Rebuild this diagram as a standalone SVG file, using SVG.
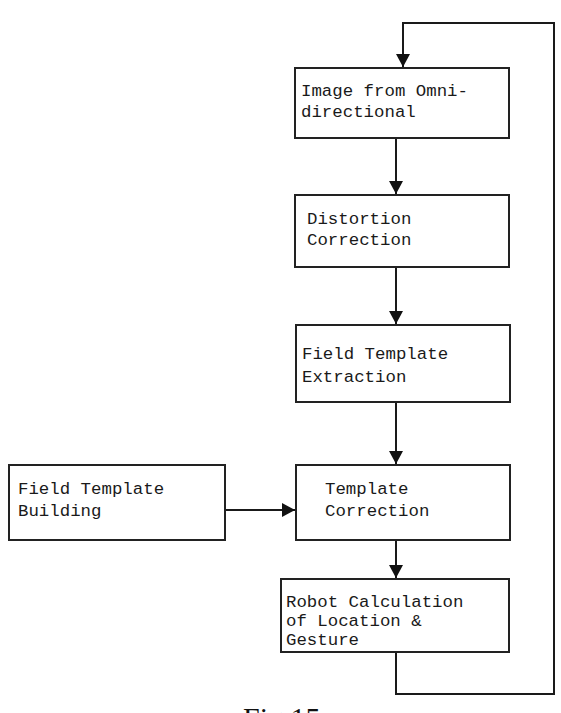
<svg xmlns="http://www.w3.org/2000/svg" width="561" height="713" viewBox="0 0 561 713">
<style>
.box{fill:#fff;stroke:#222;stroke-width:2}
.t{font-family:"Liberation Mono","DejaVu Sans Mono",monospace;font-size:17.4px;fill:#1a1a1a}
.c{fill:none;stroke:#1a1a1a;stroke-width:2}
.cap{font-family:"Liberation Serif","Times New Roman",serif;font-size:30px;fill:#111}
</style>
<defs>
<marker id="ah" markerWidth="13" markerHeight="15" refX="13" refY="7" orient="auto" markerUnits="userSpaceOnUse" viewBox="0 0 13 14">
<path d="M0,0 L13,7 L0,14 Z" fill="#111"/>
</marker>
</defs>
<rect width="561" height="713" fill="#fff"/>
<g id="connectors">
<path class="c" d="M396,652 V694 H554 V23 H403 V67" marker-end="url(#ah)"/>
<path class="c" d="M396,138 V194" marker-end="url(#ah)"/>
<path class="c" d="M396,267 V324" marker-end="url(#ah)"/>
<path class="c" d="M396,402 V464" marker-end="url(#ah)"/>
<path class="c" d="M396,540 V578" marker-end="url(#ah)"/>
<path class="c" d="M225,510 H295" marker-end="url(#ah)"/>
</g>
<g id="image">
<rect class="box" x="295" y="68" width="214" height="70"/>
<text class="t" x="301" y="96">Image from Omni-</text>
<text class="t" x="301" y="117">directional</text>
</g>
<g id="distortion">
<rect class="box" x="295" y="195" width="214" height="72"/>
<text class="t" x="307" y="224">Distortion</text>
<text class="t" x="307" y="245">Correction</text>
</g>
<g id="extraction">
<rect class="box" x="296" y="325" width="214" height="77"/>
<text class="t" x="302" y="359">Field Template</text>
<text class="t" x="302" y="382">Extraction</text>
</g>
<g id="building">
<rect class="box" x="9" y="465" width="216" height="75"/>
<text class="t" x="18" y="494">Field Template</text>
<text class="t" x="18" y="516">Building</text>
</g>
<g id="correction">
<rect class="box" x="296" y="465" width="214" height="75"/>
<text class="t" x="325" y="494">Template</text>
<text class="t" x="325" y="516">Correction</text>
</g>
<g id="robot">
<rect class="box" x="281" y="579" width="228" height="73"/>
<text class="t" x="286" y="607">Robot Calculation</text>
<text class="t" x="286" y="626">of Location &amp;</text>
<text class="t" x="286" y="645">Gesture</text>
</g>
<text class="cap" x="243" y="728">Fig.15</text>
</svg>
